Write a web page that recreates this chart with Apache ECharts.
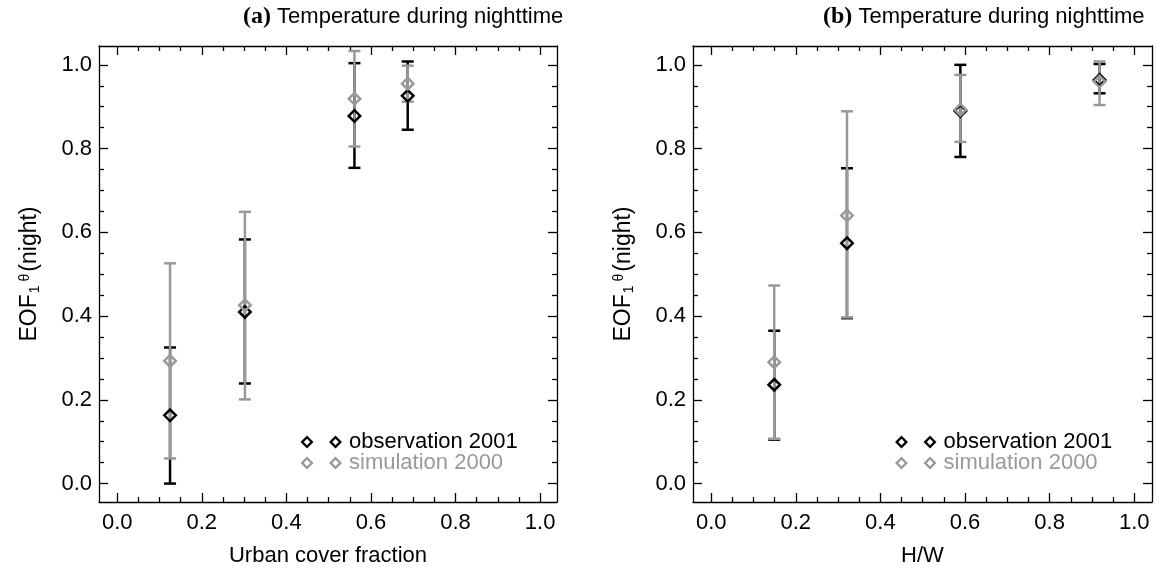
<!DOCTYPE html>
<html>
<head>
<meta charset="utf-8">
<script src="https://cdn.jsdelivr.net/npm/echarts@6/dist/echarts.min.js"></script>
<style>
  html, body { margin: 0; padding: 0; background: #fff; }
  #chart { width: 1172px; height: 576px; }
</style>
</head>
<body>
<div id="chart"></div>
<script>
// panel (a): urban cover fraction
const xA = [0.125, 0.302, 0.561, 0.687];
const obsA = [0.163, 0.410, 0.878, 0.926];
const obsLoA = [0.000, 0.239, 0.754, 0.845];
const obsHiA = [0.325, 0.583, 1.004, 1.008];
const simA = [0.293, 0.426, 0.919, 0.955];
const simLoA = [0.060, 0.201, 0.805, 0.912];
const simHiA = [0.526, 0.649, 1.033, 0.998];

// panel (b): H/W
const xB = [0.149, 0.321, 0.589, 0.918];
const obsB = [0.236, 0.574, 0.890, 0.964];
const obsLoB = [0.105, 0.395, 0.780, 0.932];
const obsHiB = [0.365, 0.753, 1.000, 1.002];
const simB = [0.290, 0.640, 0.893, 0.960];
const simLoB = [0.107, 0.397, 0.816, 0.904];
const simHiB = [0.473, 0.889, 0.976, 1.008];

const majorTicks = [0, 0.2, 0.4, 0.6, 0.8, 1.0];
const minorTicks = [0.05, 0.1, 0.15, 0.25, 0.3, 0.35, 0.45, 0.5, 0.55, 0.65, 0.7, 0.75, 0.85, 0.9, 0.95];

const SANS = "'Liberation Sans', Arial, Helvetica, sans-serif";
const SERIF = "'Liberation Serif', 'Times New Roman', serif";
const BLACK = '#000';
const GRAY = '#999';

const chart = echarts.init(document.getElementById('chart'));

function zip(xs, ys) { return xs.map((x, i) => [x, ys[i]]); }
function zip3(xs, lo, hi) { return xs.map((x, i) => [x, lo[i], hi[i]]); }

// one axis set: labelled main axis + minor ticks, and the mirrored pair
function axes(dim, gridIndex, min, max, name) {
  const pos = dim === 'x' ? ['bottom', 'top'] : ['left', 'right'];
  const out = [];
  pos.forEach((p, k) => {
    [true, false].forEach(major => {
      const a = {
        type: 'value', gridIndex: gridIndex, position: p, min: min, max: max,
        axisLine: { show: major, onZero: false, lineStyle: { color: BLACK, width: 1.3 } },
        axisTick: {
          show: true, inside: true, length: major ? 9 : 5,
          customValues: major ? majorTicks : minorTicks,
          lineStyle: { color: BLACK, width: 1.3 }
        },
        axisLabel: { show: false },
        splitLine: { show: false }
      };
      if (k === 0 && major) {
        a.axisLabel = {
          show: true, customValues: majorTicks,
          formatter: v => v.toFixed(1),
          fontFamily: SANS, fontSize: 22, color: BLACK,
          margin: dim === 'x' ? 10 : 7
        };
        a.name = name;
        a.nameLocation = 'middle';
        if (dim === 'x') {
          a.nameGap = 43;
          a.nameTextStyle = { fontFamily: SANS, fontSize: 22, color: BLACK };
        } else {
          a.nameGap = 57;
          a.nameTextStyle = {
            fontFamily: SANS, fontSize: 23, color: BLACK,
            rich: {
              m: { fontFamily: SANS, fontSize: 23, color: BLACK },
              sub: { fontFamily: SANS, fontSize: 14, color: BLACK, verticalAlign: 'bottom', padding: [8, 0, 0, 1] },
              sup: { fontFamily: SANS, fontSize: 14, color: BLACK, verticalAlign: 'top', padding: [0, 2, 10, 4] }
            }
          };
        }
      }
      out.push(a);
    });
  });
  return out;
}

const yName = '{m|EOF}{sub|1}{sup|θ}{m|(night)}';

const xAxes = axes('x', 0, -0.043, 1.040, 'Urban cover fraction')
  .concat(axes('x', 1, -0.043, 1.042, 'H/W'));
const yAxes = axes('y', 0, -0.044, 1.045, yName)
  .concat(axes('y', 1, -0.044, 1.045, yName));

function errorBars(data, color, xi, yi, z) {
  return {
    type: 'custom', xAxisIndex: xi, yAxisIndex: yi, z: z,
    data: data, silent: true,
    renderItem: (params, api) => {
      const x = api.value(0);
      const lo = api.coord([x, api.value(1)]);
      const hi = api.coord([x, api.value(2)]);
      const w = 6;
      const st = { stroke: color, lineWidth: 2.5 };
      return {
        type: 'group',
        children: [
          { type: 'line', shape: { x1: lo[0], y1: lo[1], x2: hi[0], y2: hi[1] }, style: st },
          { type: 'line', shape: { x1: lo[0] - w, y1: lo[1], x2: lo[0] + w, y2: lo[1] }, style: st },
          { type: 'line', shape: { x1: hi[0] - w, y1: hi[1], x2: hi[0] + w, y2: hi[1] }, style: st }
        ]
      };
    }
  };
}

function diamonds(name, data, color, xi, yi, z) {
  return {
    type: 'scatter', name: name, xAxisIndex: xi, yAxisIndex: yi, z: z,
    data: data, symbol: 'diamond', symbolSize: 11.5,
    itemStyle: { color: 'rgba(0,0,0,0)', borderColor: color, borderWidth: 2.5, opacity: 1 }
  };
}

// x axes 0..3 for grid 0 (main at 0), 4..7 for grid 1 (main at 4); same for y
const series = [
  errorBars(zip3(xA, obsLoA, obsHiA), BLACK, 0, 0, 2),
  errorBars(zip3(xA, simLoA, simHiA), GRAY, 0, 0, 3),
  diamonds('observation 2001', zip(xA, obsA), BLACK, 0, 0, 4),
  diamonds('simulation 2000', zip(xA, simA), GRAY, 0, 0, 5),
  errorBars(zip3(xB, obsLoB, obsHiB), BLACK, 4, 4, 2),
  errorBars(zip3(xB, simLoB, simHiB), GRAY, 4, 4, 3),
  diamonds('observation 2001', zip(xB, obsB), BLACK, 4, 4, 4),
  diamonds('simulation 2000', zip(xB, simB), GRAY, 4, 4, 5)
];

const twoDiamonds = 'path://M6.5 0L13 6.5L6.5 13L0 6.5Z M6.5 3.3L3.3 6.5L6.5 9.7L9.7 6.5Z ' +
  'M35 0L41.5 6.5L35 13L28.5 6.5Z M35 3.3L31.8 6.5L35 9.7L38.2 6.5Z';

function legend(left) {
  return {
    left: left, top: 431, orient: 'vertical', itemGap: -1, padding: 0,
    itemWidth: 41.5, itemHeight: 13, selectedMode: false,
    textStyle: { fontFamily: SANS, fontSize: 22, lineHeight: 20, padding: [0, 0, 0, 2] },
    data: [
      { name: 'observation 2001', icon: twoDiamonds, itemStyle: { color: BLACK, borderWidth: 0 }, textStyle: { color: BLACK } },
      { name: 'simulation 2000', icon: twoDiamonds, itemStyle: { color: GRAY, borderWidth: 0 }, textStyle: { color: GRAY } }
    ]
  };
}

function title(label, left) {
  return {
    text: '{b|' + label + '} {n|Temperature during nighttime}',
    left: left, top: 5, padding: 0,
    textStyle: {
      fontWeight: 'normal', fontFamily: SANS, fontSize: 22,
      rich: {
        b: { fontFamily: SERIF, fontWeight: 'bold', fontSize: 24, color: BLACK },
        n: { fontFamily: SANS, fontWeight: 'normal', fontSize: 22, color: BLACK }
      }
    }
  };
}

chart.setOption({
  animation: false,
  backgroundColor: '#fff',
  title: [title('(a)', 243), title('(b)', 823)],
  legend: [legend(300.5), legend(895)],
  grid: [
    { left: 99, top: 46, width: 458, height: 456 },
    { left: 693, top: 46, width: 459, height: 456 }
  ],
  xAxis: xAxes,
  yAxis: yAxes,
  series: series
});
</script>
</body>
</html>
